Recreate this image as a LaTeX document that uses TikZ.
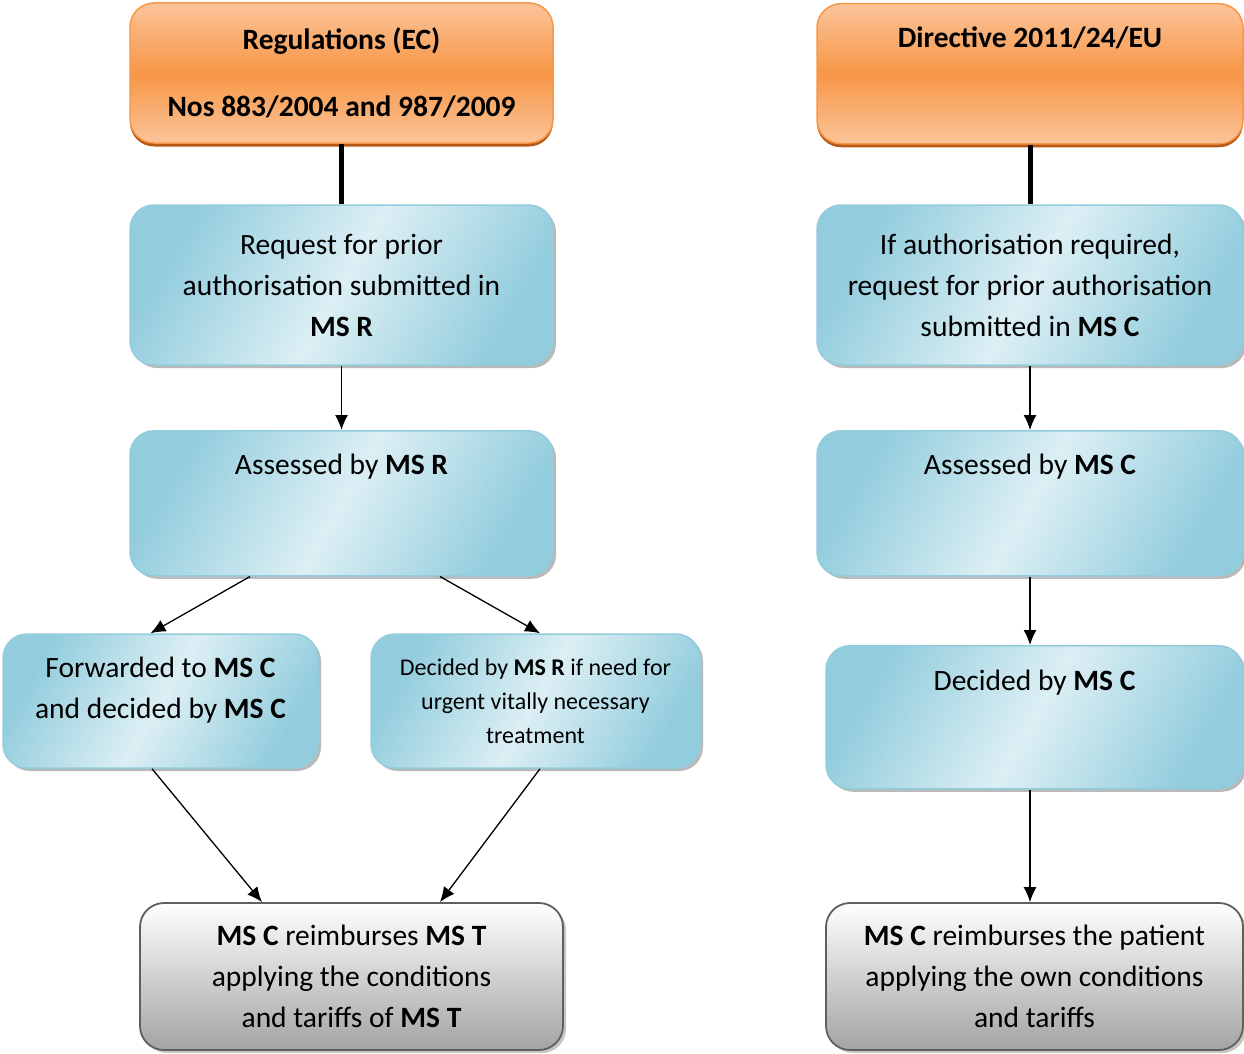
\documentclass[tikz,border=0pt]{standalone}
\usepackage{fontspec}
\setmainfont{Carlito}
\usetikzlibrary{arrows.meta,shadows}
\definecolor{orangemid}{HTML}{F79646}
\definecolor{orangelight}{HTML}{FBC49A}
\definecolor{orangedark}{HTML}{B65A16}
\definecolor{bluedark}{HTML}{93CDDD}
\definecolor{bluelight}{HTML}{DCEFF4}
\definecolor{grayedge}{HTML}{5F5F5F}
\definecolor{grayfill}{HTML}{A3A3A3}
\begin{document}
\begin{tikzpicture}[x=1pt,y=-1pt,
	box/.style={rectangle, rounded corners=24pt, inner sep=0pt, align=center, font=\fontsize{29.5}{41}\selectfont},
	orangebox/.style={box, draw=orangemid, line width=1.5pt, top color=orangelight, bottom color=orangelight, middle color=orangemid, font=\bfseries\fontsize{29.5}{41}\selectfont, drop shadow={shadow xshift=0pt, shadow yshift=-3.5pt, fill=orangedark, opacity=1}},
	bluebox/.style={box, draw=bluedark, line width=1.5pt, left color=bluedark, right color=bluedark, middle color=bluelight, shading angle=60, drop shadow={shadow xshift=3pt, shadow yshift=-3pt, fill=gray!55, opacity=1}},
	graybox/.style={box, draw=grayedge, line width=1.8pt, top color=white, bottom color=grayfill, drop shadow={shadow xshift=3pt, shadow yshift=-3pt, fill=gray!45, opacity=1}},
	toptext/.style={anchor=north, text height=#1},
	arrow/.style={-{Latex[length=15pt,width=13pt]}, line width=1.3pt}]
	\useasboundingbox (0,0) rectangle (1244,1054);

	% left column: regulations
	\node [orangebox, minimum width=423pt, minimum height=140pt] (regs) at (341.5,73) {Regulations (EC)\\[26pt]Nos 883/2004 and 987/2009};
	\node [bluebox, minimum width=423pt, minimum height=160pt] (reqR) at (341.5,285) {Request for prior\\authorisation submitted in\\\textbf{MS R}};
	\node [bluebox, toptext=44pt, text depth=101pt, minimum width=423pt] (assR) at (341.5,430) {Assessed by \textbf{MS R}};
	\node [bluebox, minimum width=315pt, minimum height=134pt] (fwdC) at (160.5,701) {Forwarded to \textbf{MS C}\\and decided by \textbf{MS C}\rule[-27pt]{0pt}{0pt}};
	\node [bluebox, minimum width=329pt, minimum height=134pt, font=\fontsize{24}{34}\selectfont] (urgR) at (535.5,701) {Decided by \textbf{MS R} if need for\\urgent vitally necessary\\treatment};
	\node [graybox, minimum width=423pt, minimum height=147pt] (payT) at (351.5,976.5) {\textbf{MS C} reimburses \textbf{MS T}\\applying the conditions\\and tariffs of \textbf{MS T}};

	% right column: directive
	\node [orangebox, toptext=44pt, text depth=96pt, minimum width=426pt] (dir) at (1030,3) {Directive 2011/24/EU};
	\node [bluebox, minimum width=426pt, minimum height=160pt] (reqC) at (1030,285) {If authorisation required,\\request for prior authorisation\\submitted in \textbf{MS C}};
	\node [bluebox, toptext=44pt, text depth=101pt, minimum width=426pt] (assC) at (1030,430) {Assessed by \textbf{MS C}};
	\node [bluebox, toptext=45pt, text depth=98pt, minimum width=417pt] (decC) at (1034.5,645) {Decided by \textbf{MS C}};
	\node [graybox, minimum width=417pt, minimum height=147pt] (payP) at (1034.5,976.5) {\textbf{MS C} reimburses the patient\\applying the own conditions\\and tariffs};

	\draw [line width=5pt] (regs.south) -- (reqR.north);
	\draw [line width=5pt] (dir.south) -- (reqC.north);

	\draw [arrow] (reqR) -- (assR);
	\draw [arrow] ([xshift=-91.5pt]assR.south) -- ([xshift=-10pt]fwdC.north);
	\draw [arrow] ([xshift=98.5pt]assR.south) -- ([xshift=4.5pt]urgR.north);
	\draw [arrow] ([xshift=-8.5pt]fwdC.south) -- ([xshift=-89.5pt]payT.north);
	\draw [arrow] ([xshift=4.5pt]urgR.south) -- ([xshift=88.5pt]payT.north);

	\draw [arrow] (reqC.south) -- (assC.north);
	\draw [arrow] (assC.south) -- (assC.south |- decC.north);
	\draw [arrow] (decC.south -| assC.south) -- (assC.south |- payP.north);
\end{tikzpicture}
\end{document}
